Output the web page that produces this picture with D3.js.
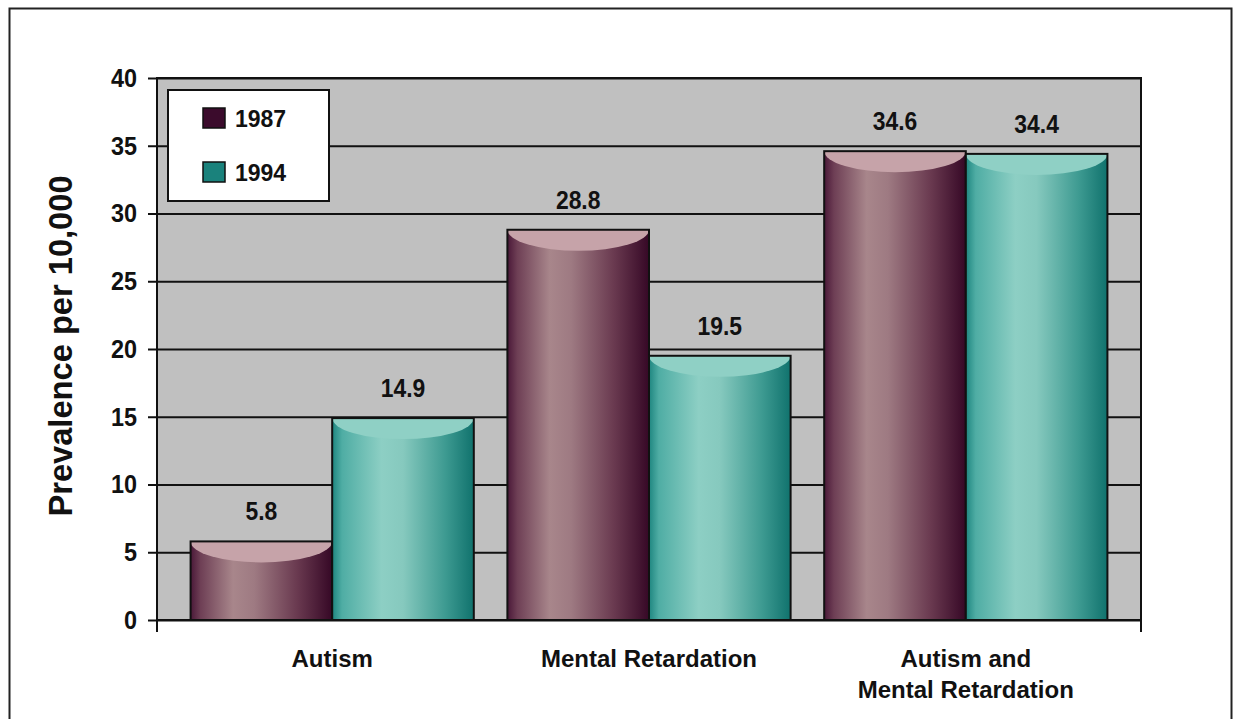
<!DOCTYPE html>
<html lang="en">
<head>
    <meta charset="UTF-8">
    <title>Prevalence per 10,000</title>
    <script src="https://d3js.org/d3.v7.min.js"></script>
    <style>
        body { margin: 0; background: #fff; }
        text { font-family: "Liberation Sans", Arial, sans-serif; font-weight: bold; fill: #111; }
    </style>
</head>
<body>
    <svg width="1236" height="719"></svg>
    <script>
        const categories = ["Autism", "Mental Retardation", "Autism and\nMental Retardation"];
        const series = ["1987", "1994"];
        const values1987 = [5.8, 28.8, 34.6];
        const values1994 = [14.9, 19.5, 34.4];
        const yTicks = [0, 5, 10, 15, 20, 25, 30, 35, 40];

        const svg = d3.select("svg");
        const m = {left: 157, top: 78, right: 1141, bottom: 620};
        const w = m.right - m.left, h = m.bottom - m.top;

        // squeeze numbers a bit so they look like the narrow original digits
        function narrow(sel, k) {
            sel.each(function() {
                const len = this.getComputedTextLength();
                d3.select(this).attr("textLength", len * k).attr("lengthAdjust", "spacingAndGlyphs");
            });
        }

        // outer frame (runs off the bottom)
        svg.append("rect").attr("x", 9.5).attr("y", 8.5).attr("width", 1222).attr("height", 800)
           .attr("fill", "none").attr("stroke", "#222").attr("stroke-width", 2);

        const defs = svg.append("defs");
        const grads = {
            "1987": [[0, "#4a1838"], [0.07, "#6e3f55"], [0.3, "#a8868b"], [0.45, "#9e7a82"], [0.75, "#6a3a50"], [1, "#360826"]],
            "1994": [[0, "#1e8680"], [0.07, "#4fada4"], [0.35, "#8dcfc4"], [0.5, "#86c9be"], [0.8, "#3d9a91"], [1, "#10726d"]]
        };
        Object.entries(grads).forEach(([k, stops]) => {
            const g = defs.append("linearGradient").attr("id", "g" + k)
                .attr("x1", "0%").attr("x2", "100%").attr("y1", "0%").attr("y2", "0%");
            stops.forEach(s => g.append("stop").attr("offset", s[0]).attr("stop-color", s[1]));
        });
        const capColor = {"1987": "#c6a3a9", "1994": "#8fd0c5"};
        const swatch = {"1987": "#3b0b2c", "1994": "#1a827c"};

        const x0 = d3.scaleBand().domain(categories).range([m.left, m.right]).padding(0.106);
        const x1 = d3.scaleBand().domain(series).range([0, x0.bandwidth()]);
        const y = d3.scaleLinear().domain([0, 40]).range([m.bottom, m.top]);

        // plot background
        svg.append("rect").attr("x", m.left).attr("y", m.top).attr("width", w).attr("height", h)
           .attr("fill", "#c0c0c0");

        // gridlines
        svg.append("g").attr("transform", `translate(${m.left},0)`)
           .call(d3.axisLeft(y).tickValues(yTicks).tickSize(-w).tickFormat(""))
           .call(g => g.select(".domain").remove())
           .call(g => g.selectAll("line").attr("stroke", "#111").attr("stroke-width", 2));

        // y axis ticks and labels
        svg.append("g").attr("transform", `translate(${m.left},0)`)
           .call(d3.axisLeft(y).tickValues(yTicks).tickSize(9).tickPadding(11))
           .call(g => g.select(".domain").remove())
           .call(g => g.selectAll("line").attr("stroke", "#111").attr("stroke-width", 2))
           .call(g => g.selectAll("text").attr("font-size", 26).attr("fill", "#111")
                .attr("font-family", "'Liberation Sans', Arial, sans-serif").attr("font-weight", "bold")
                .call(narrow, 0.9));

        const data = categories.map((c, i) => ({c, vals: [
            {s: "1987", v: values1987[i]}, {s: "1994", v: values1994[i]}]}));

        const groups = svg.append("g").selectAll("g").data(data).join("g")
            .attr("transform", d => `translate(${x0(d.c)},0)`);

        const bars = groups.selectAll("g").data(d => d.vals).join("g");
        const ry = 21;
        bars.append("rect")
            .attr("x", d => x1(d.s)).attr("y", d => y(d.v))
            .attr("width", x1.bandwidth()).attr("height", d => y(0) - y(d.v))
            .attr("fill", d => `url(#g${d.s})`);
        bars.append("path")
            .attr("d", d => {
                const bx = x1(d.s), bw = x1.bandwidth(), t = y(d.v);
                return `M${bx},${t} A${bw / 2},${ry} 0 0 0 ${bx + bw},${t} Z`;
            })
            .attr("fill", d => capColor[d.s]);
        bars.append("rect")
            .attr("x", d => x1(d.s)).attr("y", d => y(d.v))
            .attr("width", x1.bandwidth()).attr("height", d => y(0) - y(d.v))
            .attr("fill", "none").attr("stroke", "#111").attr("stroke-width", 2);
        bars.append("text")
            .attr("x", d => x1(d.s) + x1.bandwidth() / 2).attr("y", d => y(d.v) - 21)
            .attr("text-anchor", "middle").attr("font-size", 26)
            .text(d => d.v.toFixed(1))
            .call(narrow, 0.88);

        // plot border
        svg.append("rect").attr("x", m.left).attr("y", m.top).attr("width", w).attr("height", h)
           .attr("fill", "none").attr("stroke", "#111").attr("stroke-width", 2);
        // bottom end ticks
        [m.left, m.right].forEach(px => svg.append("line")
            .attr("x1", px).attr("x2", px).attr("y1", m.bottom).attr("y2", m.bottom + 12)
            .attr("stroke", "#111").attr("stroke-width", 2));

        // category labels
        const cl = svg.append("g").selectAll("text").data(categories).join("text")
            .attr("x", d => x0(d) + x0.bandwidth() / 2).attr("y", 667)
            .attr("text-anchor", "middle").attr("font-size", 24);
        cl.selectAll("tspan").data(d => d.split("\n")).join("tspan")
            .attr("x", function() { return d3.select(this.parentNode).attr("x"); })
            .attr("dy", (d, i) => i ? 31 : 0).text(d => d);

        // y title
        svg.append("text").attr("transform", "translate(72,346) rotate(-90)")
           .attr("text-anchor", "middle").attr("font-size", 34).text("Prevalence per 10,000")
           .call(narrow, 0.96);

        // legend
        const lg = svg.append("g");
        lg.append("rect").attr("x", 168).attr("y", 90).attr("width", 161).attr("height", 111)
          .attr("fill", "#fff").attr("stroke", "#111").attr("stroke-width", 2);
        series.forEach((s, i) => {
            lg.append("rect").attr("x", 203).attr("y", 108 + i * 54).attr("width", 22).attr("height", 20)
              .attr("fill", swatch[s]).attr("stroke", "#111").attr("stroke-width", 1.5);
            lg.append("text").attr("x", 235).attr("y", 127 + i * 54).attr("font-size", 23).text(s);
        });
    </script>
</body>
</html>
